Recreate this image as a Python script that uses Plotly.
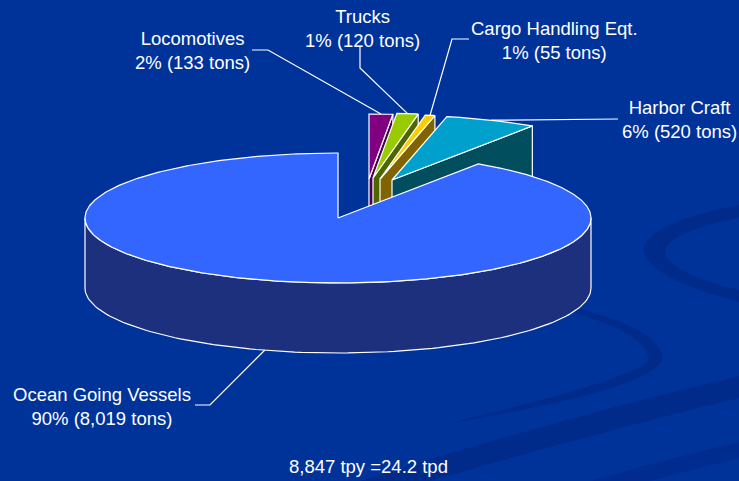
import numpy as np
import plotly.graph_objects as go

# ---------------- data ----------------
categories = ["Locomotives", "Trucks", "Cargo Handling Eqt.", "Harbor Craft", "Ocean Going Vessels"]
tons = [133, 120, 55, 520, 8019]
pct_labels = ["2%", "1%", "1%", "6%", "90%"]
tpd_value = 24.2

# ---------------- styles / layout constants ----------------
top_colors = ["#800080", "#99CC00", "#FFCC00", "#00A0CC", "#3366FF"]
wall_colors = ["#48004A", "#4C6600", "#806400", "#004E5E", "#1C307E"]
explode = [(31, -39), (35, -40), (42, -39), (54, -38), (0, 0)]  # pixel offsets of exploded slices
CX, CY, RX, RY, DEPTH = 338, 218, 253, 65, 70
W, H = 739, 481
FONT = dict(family="Liberation Sans, Arial, sans-serif", size=18.5, color="white")
OUTLINE = dict(color="white", width=1.2)

label_pos = [(192, 50), (362, 28), (554, 40), (679, 119), (102, 406)]
leader_via = [[(252, 50), (268, 50)], [(360, 47), (360, 68)], [(469, 39), (452, 39)],
              [(618, 119)], [(195, 405), (210, 405)]]

total = sum(tons)
fig = go.Figure()


def rim(cx, cy, t, drop=0.0):
    return cx + RX * np.cos(np.radians(t)), cy - RY * np.sin(np.radians(t)) + drop


def poly(xs, ys, fill):
    fig.add_trace(go.Scatter(x=list(xs), y=list(ys), mode="lines", fill="toself",
                             fillcolor=fill, line=OUTLINE, hoverinfo="skip", showlegend=False))


# angles: clockwise from 12 o'clock
angles = []
cur = 90.0
for v in tons:
    span = 360.0 * v / total
    angles.append((cur - span, cur))
    cur -= span

anchors = []
for i, (lo, hi) in enumerate(angles):
    cx, cy = CX + explode[i][0], CY + explode[i][1]
    # radial faces (only the ones facing the viewer)
    if np.cos(np.radians(lo)) > 1e-6:
        px, py = rim(cx, cy, lo)
        poly([cx, px, px, cx, cx], [cy, py, py + DEPTH, cy + DEPTH, cy], wall_colors[i])
    if np.cos(np.radians(hi)) < -1e-6:
        px, py = rim(cx, cy, hi)
        poly([cx, px, px, cx, cx], [cy, py, py + DEPTH, cy + DEPTH, cy], wall_colors[i])
    # outer curved wall (front half only)
    for k in range(-2, 2):
        a0, a1 = max(lo, -180 + 360 * k), min(hi, 0 + 360 * k)
        if a1 > a0:
            ts = np.linspace(a0, a1, 120)
            xt, yt = rim(cx, cy, ts)
            poly(np.r_[xt, xt[::-1], xt[0]], np.r_[yt, (yt + DEPTH)[::-1], yt[0]], wall_colors[i])
    # top face
    ts = np.linspace(lo, hi, max(8, int((hi - lo) * 2)))
    xt, yt = rim(cx, cy, ts)
    poly(np.r_[cx, xt, cx], np.r_[cy, yt, cy], top_colors[i])
    mid = (lo + hi) / 2
    drop = DEPTH if np.sin(np.radians(mid)) < 0 else 0
    anchors.append(rim(cx, cy, mid, drop))

# leader lines and labels
annotations = []
for i, name in enumerate(categories):
    pts = leader_via[i] + [anchors[i]]
    fig.add_trace(go.Scatter(x=[p[0] for p in pts], y=[p[1] for p in pts], mode="lines",
                             line=dict(color="white", width=1.2), hoverinfo="skip", showlegend=False))
    annotations.append(dict(x=label_pos[i][0], y=label_pos[i][1], xref="x", yref="y",
                            text=f"{name}<br>{pct_labels[i]} ({tons[i]:,} tons)",
                            showarrow=False, font=FONT, align="center"))

annotations.append(dict(x=368, y=466, xref="x", yref="y", text=f"{total:,} tpy ={tpd_value} tpd",
                        showarrow=False, font=FONT, align="center"))

BAND = "rgba(0,25,105,0.30)"
shapes = [
    # hairpin band under the pie (right), tapering to the left
    dict(type="path", layer="below", line=dict(width=0), fillcolor=BAND,
         path="M 575,308 Q 665,330 662,360 Q 650,390 440,425 Q 640,378 648,360 "
              "Q 650,336 575,313 Z"),
    # C-shaped band at right edge
    dict(type="path", layer="below", line=dict(width=0), fillcolor=BAND,
         path="M 739,205 Q 648,222 643,250 Q 648,278 739,302 L 739,290 Q 668,272 665,252 "
              "Q 668,232 739,218 Z"),
    # long band near the bottom
    dict(type="path", layer="below", line=dict(width=0), fillcolor=BAND,
         path="M 360,481 Q 560,418 739,376 L 739,398 Q 600,432 430,481 Z"),
    dict(type="path", layer="below", line=dict(width=0), fillcolor="rgba(0,25,105,0.22)",
         path="M 590,481 Q 670,458 739,442 L 739,458 Q 700,468 650,481 Z"),
]

fig.update_layout(
    width=W, height=H, margin=dict(l=0, r=0, t=0, b=0),
    paper_bgcolor="#00339A", plot_bgcolor="#00339A",
    xaxis=dict(range=[0, W], visible=False, fixedrange=True),
    yaxis=dict(range=[H, 0], visible=False, fixedrange=True),
    annotations=annotations, shapes=shapes, showlegend=False,
)

fig.write_html("out.html", config=dict(displayModeBar=False),
               post_script="document.body.style.margin='0';document.body.style.overflow='hidden';")
